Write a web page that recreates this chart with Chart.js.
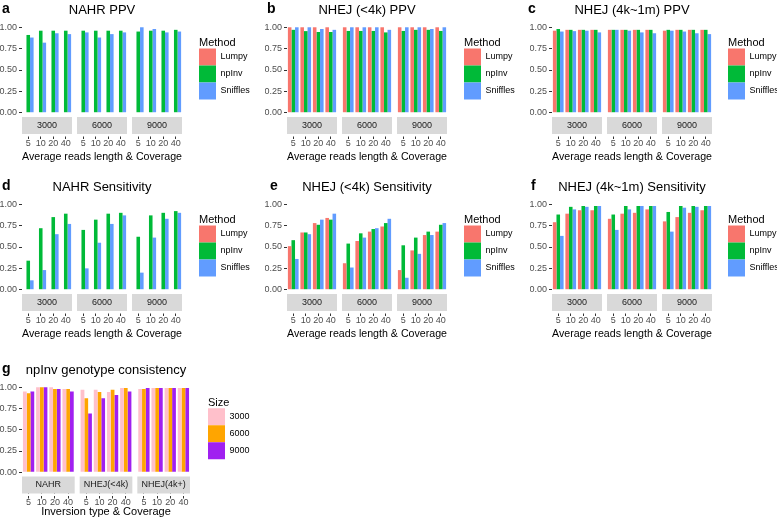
<!DOCTYPE html>
<html>
<head>
<meta charset="utf-8">
<script src="https://cdn.jsdelivr.net/npm/chart.js@4.4.1/dist/chart.umd.min.js"></script>
<style>
  html, body { margin: 0; padding: 0; background: #fff; overflow: hidden; }
  body { width: 777px; height: 522px; position: relative; }
  canvas { position: absolute; }
</style>
</head>
<body>
<script>
// categories
const coverage = ["5", "10", "20", "40"];
const readLengths = ["3000", "6000", "9000"];
const inversionTypes = ["NAHR", "NHEJ(<4k)", "NHEJ(4k+)"];
const methods = ["Lumpy", "npInv", "Sniffles"];
const methodColors = ["#F8766D", "#00BA38", "#619CFF"];
const sizes = ["3000", "6000", "9000"];
const sizeColors = ["#FFC0CB", "#FFA500", "#A020F0"];
const yTicks = [0, 0.25, 0.5, 0.75, 1];

// one row per facet, one value per coverage
// a: NAHR PPV
const nahrPpvLumpy = [[null, null, null, null], [null, null, null, null], [null, null, null, null]];
const nahrPpvNpInv = [[0.91, 0.96, 0.96, 0.96], [0.96, 0.96, 0.96, 0.96], [0.95, 0.96, 0.96, 0.97]];
const nahrPpvSniffles = [[0.88, 0.82, 0.93, 0.92], [0.94, 0.88, 0.92, 0.94], [1.00, 0.98, 0.94, 0.95]];
// b: NHEJ (<4k) PPV
const shortPpvLumpy = [[1.00, 1.00, 1.00, 1.00], [1.00, 1.00, 1.00, 1.00], [1.00, 1.00, 1.00, 1.00]];
const shortPpvNpInv = [[0.97, 0.955, 0.945, 0.945], [0.957, 0.957, 0.957, 0.94], [0.957, 0.97, 0.97, 0.957]];
const shortPpvSniffles = [[1.00, 1.00, 0.98, 0.97], [1.00, 1.00, 1.00, 0.97], [1.00, 1.00, 0.98, 1.00]];
// c: NHEJ (4k~1m) PPV
const longPpvLumpy = [[0.96, 0.97, 0.97, 0.97], [0.97, 0.97, 0.97, 0.97], [0.96, 0.97, 0.97, 0.97]];
const longPpvNpInv = [[0.98, 0.97, 0.97, 0.97], [0.97, 0.97, 0.97, 0.97], [0.97, 0.97, 0.97, 0.97]];
const longPpvSniffles = [[0.95, 0.955, 0.96, 0.94], [0.97, 0.96, 0.94, 0.93], [0.96, 0.95, 0.93, 0.92]];
// d: NAHR Sensitivity
const nahrSensLumpy = [[null, null, null, null], [null, null, null, null], [null, null, null, null]];
const nahrSensNpInv = [[0.34, 0.72, 0.85, 0.89], [0.70, 0.82, 0.89, 0.90], [0.62, 0.87, 0.90, 0.92]];
const nahrSensSniffles = [[0.11, 0.23, 0.65, 0.77], [0.25, 0.55, 0.77, 0.87], [0.20, 0.61, 0.83, 0.90]];
// e: NHEJ (<4k) Sensitivity
const shortSensLumpy = [[0.51, 0.67, 0.78, 0.84], [0.31, 0.57, 0.68, 0.74], [0.23, 0.46, 0.64, 0.68]];
const shortSensNpInv = [[0.58, 0.67, 0.76, 0.82], [0.54, 0.66, 0.71, 0.78], [0.52, 0.61, 0.68, 0.76]];
const shortSensSniffles = [[0.36, 0.65, 0.82, 0.89], [0.26, 0.61, 0.72, 0.83], [0.14, 0.42, 0.64, 0.78]];
// f: NHEJ (4k~1m) Sensitivity
const longSensLumpy = [[0.79, 0.89, 0.93, 0.93], [0.83, 0.89, 0.90, 0.94], [0.80, 0.85, 0.90, 0.93]];
const longSensNpInv = [[0.88, 0.97, 0.98, 0.98], [0.88, 0.98, 0.98, 0.98], [0.91, 0.98, 0.98, 0.98]];
const longSensSniffles = [[0.63, 0.94, 0.97, 0.98], [0.70, 0.94, 0.98, 0.98], [0.68, 0.96, 0.97, 0.98]];
// g: npInv genotype consistency (facets = inversion type)
const consistency3000 = [[0.95, 1.00, 1.00, 0.98], [0.97, 0.97, 0.945, 0.99], [0.98, 0.99, 0.99, 0.99]];
const consistency6000 = [[0.93, 1.00, 0.98, 0.98], [0.87, 0.945, 0.97, 0.99], [0.98, 0.99, 0.99, 0.99]];
const consistency9000 = [[0.95, 1.00, 0.98, 0.95], [0.69, 0.87, 0.91, 0.95], [0.99, 0.99, 0.99, 0.99]];

Chart.defaults.font.family = "'Liberation Sans', Arial, sans-serif";
Chart.defaults.color = "#4D4D4D";

const readsTitle = "Average reads length & Coverage";
const panels = [
  { tag: "a", tagX: 2, title: "NAHR PPV", left: 0, top: 0, padL: 0, plotW: 160, legendGap: 17,
    facets: readLengths, groups: methods, colors: methodColors, legendTitle: "Method", legendW: 56,
    xTitle: readsTitle, titleTop: 3, values: [nahrPpvLumpy, nahrPpvNpInv, nahrPpvSniffles] },
  { tag: "b", tagX: 9, title: "NHEJ (<4k) PPV", left: 258, top: 0, padL: 7, plotW: 160, legendGap: 17,
    facets: readLengths, groups: methods, colors: methodColors, legendTitle: "Method", legendW: 56,
    xTitle: readsTitle, titleTop: 3, values: [shortPpvLumpy, shortPpvNpInv, shortPpvSniffles] },
  { tag: "c", tagX: 10, title: "NHEJ (4k~1m) PPV", left: 518, top: 0, padL: 12, plotW: 160, legendGap: 16,
    facets: readLengths, groups: methods, colors: methodColors, legendTitle: "Method", legendW: 56,
    xTitle: readsTitle, titleTop: 3, values: [longPpvLumpy, longPpvNpInv, longPpvSniffles] },
  { tag: "d", tagX: 2, title: "NAHR Sensitivity", left: 0, top: 177, padL: 0, plotW: 160, legendGap: 17,
    facets: readLengths, groups: methods, colors: methodColors, legendTitle: "Method", legendW: 56,
    xTitle: readsTitle, titleTop: 3, values: [nahrSensLumpy, nahrSensNpInv, nahrSensSniffles] },
  { tag: "e", tagX: 12, title: "NHEJ (<4k) Sensitivity", left: 258, top: 177, padL: 7, plotW: 160, legendGap: 17,
    facets: readLengths, groups: methods, colors: methodColors, legendTitle: "Method", legendW: 56,
    xTitle: readsTitle, titleTop: 3, values: [shortSensLumpy, shortSensNpInv, shortSensSniffles] },
  { tag: "f", tagX: 13, title: "NHEJ (4k~1m) Sensitivity", left: 518, top: 177, padL: 12, plotW: 160, legendGap: 16,
    facets: readLengths, groups: methods, colors: methodColors, legendTitle: "Method", legendW: 56,
    xTitle: readsTitle, titleTop: 3, values: [longSensLumpy, longSensNpInv, longSensSniffles] },
  { tag: "g", tagX: 2, title: "npInv genotype consistency", left: 0, top: 360, padL: 0, plotW: 168, legendGap: 18,
    facets: inversionTypes, groups: sizes, colors: sizeColors, legendTitle: "Size", legendW: 48,
    xTitle: "Inversion type & Coverage", titleTop: -1.5, values: [consistency3000, consistency6000, consistency9000] }
];

// grey facet strips under the panels, plus the panel tag
const stripPlugin = {
  id: "strips",
  afterDraw(chart, args, opts) {
    const ctx = chart.ctx;
    const area = chart.chartArea;
    ctx.save();
    opts.labels.forEach((label, i) => {
      const s = chart.scales["f" + i];
      ctx.fillStyle = "#FFFFFF";
      ctx.fillRect(s.left, area.bottom + 17, s.width, 2.5);
      ctx.fillStyle = "#D9D9D9";
      ctx.fillRect(s.left, area.bottom, s.width, 17);
      ctx.fillStyle = "#1A1A1A";
      ctx.font = "9px 'Liberation Sans', Arial, sans-serif";
      ctx.textAlign = "center";
      ctx.textBaseline = "middle";
      ctx.fillText(label, (s.left + s.right) / 2, area.bottom + 8.5);
    });
    ctx.fillStyle = "#000000";
    ctx.font = "bold 14px 'Liberation Sans', Arial, sans-serif";
    ctx.textAlign = "left";
    ctx.textBaseline = "alphabetic";
    ctx.fillText(opts.tag, opts.tagX, 13);
    ctx.restore();
  }
};

panels.forEach(p => {
  const gap = 5;
  const facetW = (p.plotW - 2 * gap) / 3;
  const canvas = document.createElement("canvas");
  canvas.width = p.padL + 22 + p.plotW + p.legendGap + p.legendW;
  canvas.height = 163 + p.titleTop;
  canvas.style.left = p.left + "px";
  canvas.style.top = p.top + "px";
  document.body.appendChild(canvas);

  const scales = {
    y: {
      type: "linear", position: "left", min: -0.05, max: 1.05, offset: false,
      afterBuildTicks: s => { s.ticks = yTicks.map(v => ({ value: v })); },
      afterFit: s => { s.width = 22; },
      grid: { drawOnChartArea: false, offset: false, tickLength: 3, color: "#333333" },
      border: { display: false },
      ticks: { padding: 2, color: "#4D4D4D", font: { size: 9 }, callback: v => v.toFixed(2) }
    }
  };
  // each facet is its own category axis, laid side by side in one bottom stack
  p.facets.forEach((name, i) => {
    scales["f" + i] = {
      type: "category", axis: "x", position: "bottom", stack: "facets", stackWeight: facetW,
      labels: coverage, offset: true,
      grid: { display: true, drawOnChartArea: false, offset: false, tickLength: 22, color: "#333333" },
      border: { display: false },
      ticks: { autoSkip: false, maxRotation: 0, padding: -1, color: "#4D4D4D", font: { size: 9, lineHeight: 1.2 } }
    };
    if (i < 2) {
      scales["gap" + i] = { type: "linear", axis: "x", position: "bottom", stack: "facets", stackWeight: gap, display: false };
    }
  });
  scales.gapR = {
    type: "linear", axis: "y", position: "right", display: true, offset: false,
    grid: { display: false }, ticks: { display: false }, border: { display: false },
    afterFit: s => { s.width = p.legendGap; }
  };

  const datasets = [];
  p.facets.forEach((name, i) => {
    p.groups.forEach((g, j) => {
      datasets.push({
        label: g, data: p.values[j][i], backgroundColor: p.colors[j], indexAxis: "x",
        xAxisID: "f" + i, yAxisID: "y", categoryPercentage: 0.857, barPercentage: 1
      });
    });
  });

  new Chart(canvas, {
    type: "bar",
    data: { datasets: datasets },
    plugins: [stripPlugin],
    options: {
      // datasets keep indexAxis "x"; the chart-level "y" stops bars on different facet axes from sharing slots
      indexAxis: "y",
      responsive: false,
      devicePixelRatio: 1,
      animation: false,
      events: [],
      layout: { padding: { left: p.padL, top: 0, right: 0, bottom: 0 } },
      scales: scales,
      plugins: {
        strips: { labels: p.facets, tag: p.tag, tagX: p.tagX },
        tooltip: { enabled: false },
        title: {
          display: true, text: p.title, position: "top", fullSize: false, color: "#000000",
          font: { size: 13, weight: "normal", lineHeight: 1.2 }, padding: { top: 2.2, bottom: 5.2 }
        },
        subtitle: {
          display: true, text: p.xTitle, position: "bottom", fullSize: false, color: "#000000",
          font: { size: 11, weight: "normal", lineHeight: 1.2 }, padding: { top: p.titleTop, bottom: 2 }
        },
        legend: {
          display: true, position: "right", align: "center", fullSize: false, maxWidth: p.legendW,
          labels: {
            boxWidth: 17, boxHeight: 17, padding: 0, color: "#000000", font: { size: 9 },
            filter: item => item.datasetIndex < p.groups.length
          },
          title: {
            display: true, text: p.legendTitle, color: "#000000", position: "start",
            font: { size: 11, lineHeight: 1 }, padding: { top: -3, bottom: 0 }
          }
        }
      }
    }
  });
});
</script>
</body>
</html>
